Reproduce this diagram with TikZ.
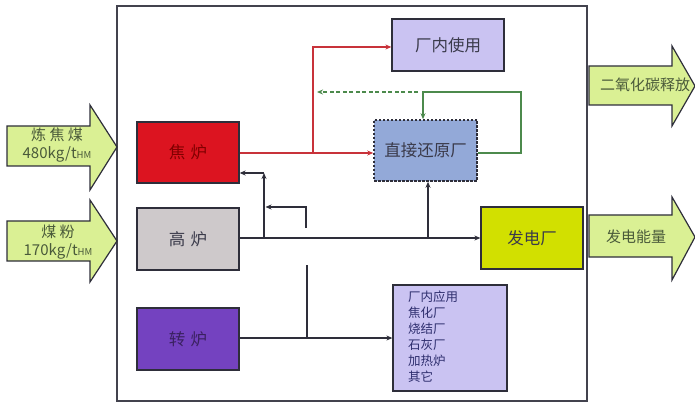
\documentclass[tikz,border=0pt]{standalone}
\usepackage{fontspec}
\setmainfont{Noto Sans CJK SC}
\usetikzlibrary{arrows.meta}
\definecolor{darkline}{HTML}{2E2E3A}
\definecolor{redline}{HTML}{C8323A}
\definecolor{greenline}{HTML}{4C8A4C}
\definecolor{arrowfill}{HTML}{DAF094}
\definecolor{arrowtext}{HTML}{4A5A3A}
\definecolor{redbox}{HTML}{DC1420}
\definecolor{graybox}{HTML}{CEC9CB}
\definecolor{purplebox}{HTML}{7442C0}
\definecolor{lavbox}{HTML}{CAC3F2}
\definecolor{bluebox}{HTML}{93A9D8}
\definecolor{limebox}{HTML}{D2E000}
\definecolor{boxtext}{HTML}{3A3A4A}
\tikzset{
  x=1pt, y=-1pt,
  box/.style={draw=darkline, line width=1.3pt, minimum width=102pt, minimum height=62pt, inner sep=0pt, font=\fontsize{16.5}{16.5}\selectfont, text=boxtext},
  conn/.style={draw=darkline, line width=1.1pt},
  tip/.style={-{Stealth[length=6pt,width=5pt]}},
  bigarrow/.style={draw=darkline, line width=1.2pt, fill=arrowfill},
  arrowlabel/.style={font=\fontsize{15}{18}\selectfont, text=arrowtext, align=center, inner sep=0pt},
}
\newcommand{\hmsub}{{\fontsize{9.5}{9.5}\selectfont HM}}
\begin{document}
\begin{tikzpicture}
\useasboundingbox (0,0) rectangle (695,403);
% frame
\draw[draw=darkline!90, line width=2pt] (117,6) rectangle (587,401);

% big input/output arrows
\draw[bigarrow] (7,126) -- (90,126) -- (90,105) -- (117,147) -- (90,190) -- (90,166) -- (7,166) -- cycle;
\node[arrowlabel] (coking) at (57,145) {炼 焦 煤\\480kg/t\hmsub};
\draw[bigarrow] (7,221) -- (90,221) -- (90,200) -- (117,241) -- (90,282) -- (90,261) -- (7,261) -- cycle;
\node[arrowlabel] (pcoal) at (58,242) {煤 粉\\170kg/t\hmsub};
\draw[bigarrow] (589,66) -- (672,66) -- (672,46) -- (695,86) -- (672,126) -- (672,105) -- (589,105) -- cycle;
\node[arrowlabel] (co2) at (645,85) {二氧化碳释放};
\draw[bigarrow] (589,215) -- (672,215) -- (672,197) -- (695,237) -- (672,280) -- (672,257) -- (589,257) -- cycle;
\node[arrowlabel] (energy) at (636,237) {发电能量};

% boxes
\node[box, fill=redbox, minimum height=61pt, text=red!50!black] (jl) at (188,152.5) {焦\,\,炉};
\node[box, fill=graybox] (gl) at (188,239) {高\,\,炉};
\node[box, fill=purplebox, text=purplebox!50!black] (zl) at (188,339) {转\,\,炉};
\node[box, fill=lavbox, minimum width=112pt, minimum height=52pt] (cnsy) at (448,45) {厂内使用};
\node[box, fill=bluebox, minimum width=103pt, minimum height=61pt, dash pattern=on 2.5pt off 1.5pt, line width=1.6pt] (ddr) at (425.5,150.5) {直接还原厂};
\node[box, fill=limebox, minimum height=62pt] (pp) at (532,238) {发电厂};
\node[box, fill=lavbox, minimum width=114pt, minimum height=106pt] (list) at (450,338) {};
\node[anchor=north west, align=left, inner sep=0pt, font=\fontsize{12.5}{15.9}\selectfont, text=boxtext!80!blue] (listtext) at (408,291) {厂内应用\\焦化厂\\烧结厂\\石灰厂\\加热炉\\其它};

% red connectors
\coordinate (rb) at (313,153);
\draw[draw=redline, line width=1.1pt, tip] (jl.east |- rb) -- (ddr.west |- rb);
\draw[draw=redline, line width=1.1pt, tip] (rb) |- (cnsy.west |- 0,47);

% green connectors
\coordinate (gd1) at (418,92);
\coordinate (gd2) at (317,92);
\draw[draw=greenline, line width=1.1pt, dash pattern=on 4pt off 2.5pt, tip] (gd1) -- (gd2);
\coordinate (gr) at (521,92);
\draw[draw=greenline, line width=1.1pt, tip] (ddr.east |- 0,153) -| (gr) -- (423,92) -- (423,0 |- ddr.north);

% dark connectors
\draw[conn, tip] (gl.east |- 0,238) -- (pp.west |- 0,238);
\coordinate (v1) at (264,238);
\coordinate (v1t) at (264,173);
\draw[conn, tip] (v1) -- (v1t);
\draw[conn, tip] (v1t) -- (jl.east |- v1t);
\coordinate (s1) at (306,228);
\coordinate (s1t) at (306,207);
\draw[conn, tip] (s1) -- (s1t) -- (265.5,207);
\coordinate (z1) at (307,265);
\draw[conn] (z1) -- (307,338);
\draw[conn, tip] (zl.east |- 0,338) -- (list.west |- 0,338);
\coordinate (pv) at (428,238);
\draw[conn, tip] (pv) -- (pv |- ddr.south);
\end{tikzpicture}
\end{document}
